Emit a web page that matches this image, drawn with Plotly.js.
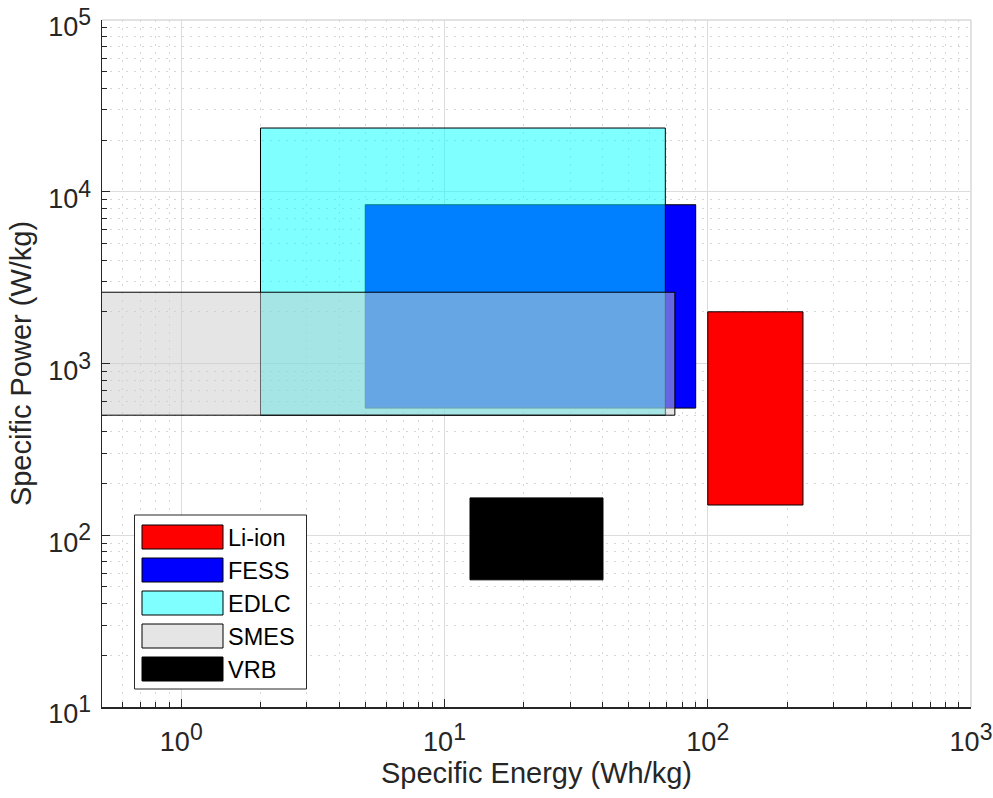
<!DOCTYPE html>
<html>
<head>
<meta charset="utf-8">
<script src="https://cdn.plot.ly/plotly-3.0.1.min.js"></script>
<style>
html,body{margin:0;padding:0;background:#fff;}
#chart{width:993px;height:798px;}
</style>
</head>
<body>
<div id="chart"></div>
<script>
// ---- Data ----
var technologies = ["Li-ion", "FESS", "EDLC", "SMES", "VRB"];
var energyMin = [100, 5, 2, 0.1, 12.5];      // Wh/kg
var energyMax = [230, 90, 69, 75, 40];       // Wh/kg
var powerMin  = [150, 550, 500, 500, 55];     // W/kg
var powerMax  = [2000, 8400, 23500, 2600, 165]; // W/kg
var xTickVals = [1, 10, 100, 1000];
var xTickExp  = ["0", "1", "2", "3"];
var yTickVals = [10, 100, 1000, 10000, 100000];
var yTickExp  = ["1", "2", "3", "4", "5"];

// ---- Styles ----
var fillColors = ["rgb(255,0,0)", "rgb(0,0,255)", "rgba(0,255,255,0.5)", "rgba(204,204,204,0.5)", "rgb(0,0,0)"];
var FONT = "Liberation Sans, Arial, Helvetica, sans-serif";
var INK = "#262626";

function powLabel(e) {
  return "10<sup><span style=\"font-size:23px\">" + e + "</span></sup>";
}

// minor tick positions (2..9 of each decade)
function minorVals(lo, hi) {
  var v = [];
  for (var e = lo; e < hi; e++) {
    for (var m = 2; m <= 9; m++) v.push(m * Math.pow(10, e));
  }
  return v;
}

var traces = technologies.map(function (name, i) {
  return {
    type: "scatter",
    mode: "lines",
    name: name,
    x: [energyMin[i], energyMax[i], energyMax[i], energyMin[i], energyMin[i]],
    y: [powerMin[i], powerMin[i], powerMax[i], powerMax[i], powerMin[i]],
    fill: "toself",
    fillcolor: fillColors[i],
    line: {color: "#000000", width: 1},
    hoverinfo: "skip",
    showlegend: false
  };
});

// plot area in pixels
var L = 102, R = 971, T = 20, B = 707;
function px(xp) { return (xp - L) / (R - L); }
function py(yp) { return (B - yp) / (B - T); }

var shapes = [];
var annotations = [];
// light box edges at top and right (as in the reference)
shapes.push({type: "line", xref: "paper", yref: "paper", x0: 0, x1: 1, y0: 1, y1: 1,
  line: {color: "#d9d9d9", width: 1.5}, layer: "below"});
shapes.push({type: "line", xref: "paper", yref: "paper", x0: 1, x1: 1, y0: 0, y1: 1,
  line: {color: "#d9d9d9", width: 1.5}, layer: "below"});

// custom legend (MATLAB-like wide swatches)
shapes.push({type: "rect", xref: "paper", yref: "paper",
  x0: px(134.5), x1: px(306.5), y0: py(689), y1: py(515),
  fillcolor: "#ffffff", line: {color: INK, width: 1}, layer: "above"});
technologies.forEach(function (name, i) {
  var top = 525 + i * 33;
  shapes.push({type: "rect", xref: "paper", yref: "paper",
    x0: px(142), x1: px(223), y0: py(top + 24), y1: py(top),
    fillcolor: fillColors[i], line: {color: "#000000", width: 1}, layer: "above"});
  annotations.push({xref: "paper", yref: "paper", x: px(226), y: py(top + 12.5),
    xanchor: "left", yanchor: "middle", showarrow: false, text: name,
    font: {family: FONT, size: 23.5, color: "#000000"}});
});

var axisCommon = {
  type: "log",
  showline: true, linecolor: INK, linewidth: 1.5, mirror: false,
  ticks: "inside", ticklen: 8, tickwidth: 1, tickcolor: INK,
  tickmode: "array",
  ticklabeloverflow: "allow",
  showgrid: true, gridcolor: "#dcdcdc", gridwidth: 1,
  zeroline: false,
  tickfont: {family: FONT, size: 27, color: INK}
};

var minorGrid = {gridcolor: "#d6d6d6", gridwidth: 1, griddash: "1.5px,6.5px"};

var layout = {
  width: 993, height: 798,
  margin: {l: L, r: 993 - R, t: T, b: 798 - B},
  paper_bgcolor: "#ffffff", plot_bgcolor: "#ffffff",
  showlegend: false,
  font: {family: FONT, color: INK},
  xaxis: Object.assign({}, axisCommon, {
    range: [Math.log10(0.5), 3],
    tickvals: xTickVals, ticktext: xTickExp.map(powLabel),
    ticklabelstandoff: 10,
    minor: Object.assign({tickmode: "array", tickvals: minorVals(-1, 3), ticks: "inside", ticklen: 5,
            tickcolor: INK, showgrid: true}, minorGrid),
    title: {text: "Specific Energy (Wh/kg)", font: {family: FONT, size: 29, color: INK}, standoff: 6}
  }),
  yaxis: Object.assign({}, axisCommon, {
    range: [1, 5],
    tickvals: yTickVals, ticktext: yTickExp.map(powLabel),
    ticklabelstandoff: 4,
    ticklabelshift: 7,
    minor: Object.assign({tickmode: "array", tickvals: minorVals(1, 5), ticks: "inside", ticklen: 5,
            tickcolor: INK, showgrid: true}, minorGrid),
    title: {text: "Specific Power (W/kg)", font: {family: FONT, size: 29, color: INK}, standoff: 8}
  }),
  shapes: shapes,
  annotations: annotations
};

Plotly.newPlot("chart", traces, layout, {displayModeBar: false, staticPlot: true});
</script>
</body>
</html>
